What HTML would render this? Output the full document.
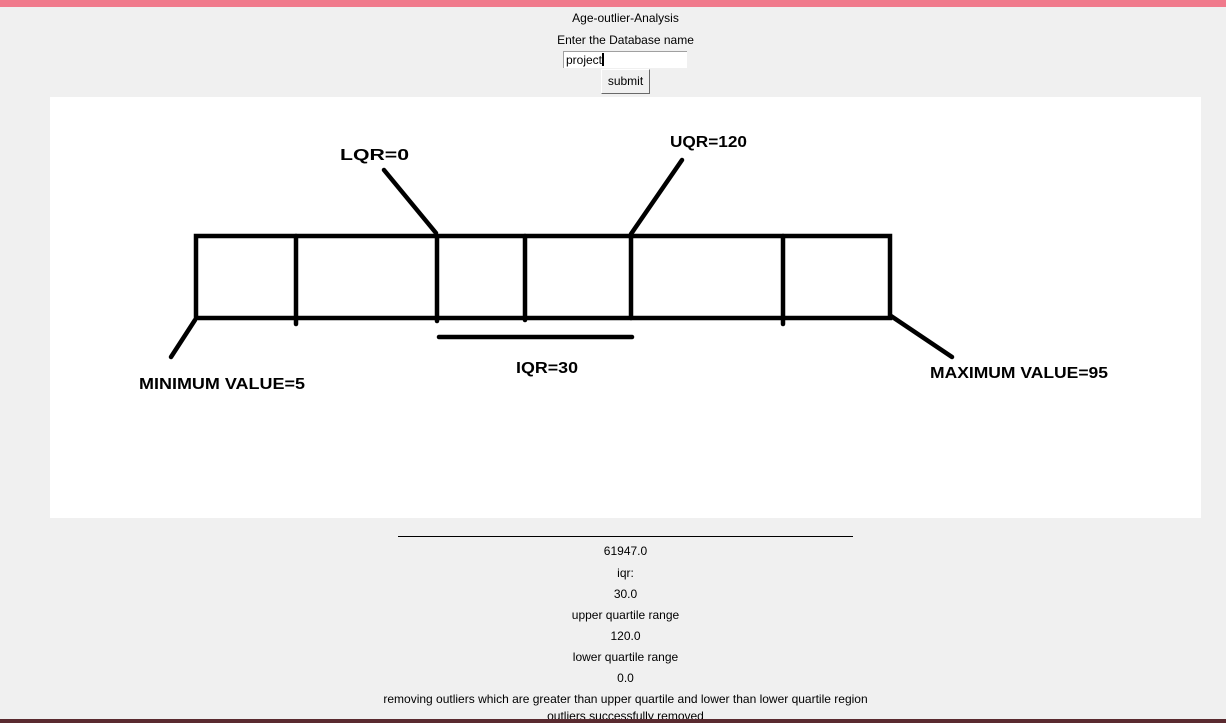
<!DOCTYPE html>
<html><head><meta charset="utf-8"><style>
html,body{margin:0;padding:0}
body{width:1226px;height:723px;background:#f0f0f0;position:relative;overflow:hidden;font-family:"Liberation Sans",sans-serif;font-size:12px;color:#000}
.t{position:absolute;left:0;width:1251px;text-align:center;line-height:14px}
</style></head><body>
<div style="position:absolute;left:0;top:0;width:1226px;height:7px;background:#f07a8c"></div>
<div class="t" style="top:11px">Age-outlier-Analysis</div>
<div class="t" style="top:33px">Enter the Database name</div>
<div style="position:absolute;left:563px;top:51px;width:124px;height:17px;background:#fff;border-top:1px solid #a0a0a0;border-left:1px solid #a0a0a0;box-sizing:border-box;padding-left:2px;line-height:16px">project<span style="display:inline-block;width:2px;height:13px;background:#000;vertical-align:-2px"></span></div>
<div style="position:absolute;left:601px;top:69px;width:49px;height:25px;background:#f0f0f0;border:1px solid;border-color:#fff #696969 #696969 #fff;box-sizing:border-box;text-align:center;line-height:23px">submit</div>
<div style="position:absolute;left:50px;top:97px;width:1151px;height:421px;background:#fff"></div>
<svg style="position:absolute;left:0;top:0" width="1226" height="723">
<g stroke="#000" stroke-width="4.5" fill="none" stroke-linecap="round">
<rect x="196" y="236" width="694" height="82"/>
<line x1="296" y1="236" x2="296" y2="324"/>
<line x1="437" y1="236" x2="437" y2="321"/>
<line x1="525" y1="236" x2="525" y2="320"/>
<line x1="631" y1="236" x2="631" y2="318"/>
<line x1="783" y1="236" x2="783" y2="324"/>
<line x1="439" y1="337" x2="632" y2="337"/>
<line x1="384" y1="170" x2="436" y2="233"/>
<line x1="682" y1="160" x2="631" y2="234"/>
<line x1="195" y1="320" x2="171" y2="357"/>
<line x1="891" y1="316" x2="952" y2="357"/>
</g>
<g font-family="Liberation Sans,sans-serif" font-weight="bold" font-size="16" fill="#000">
<text x="340" y="160" textLength="69" lengthAdjust="spacingAndGlyphs">LQR=0</text>
<text x="670" y="147" textLength="77" lengthAdjust="spacingAndGlyphs">UQR=120</text>
<text x="139" y="389" textLength="166" lengthAdjust="spacingAndGlyphs">MINIMUM VALUE=5</text>
<text x="516" y="373" textLength="62" lengthAdjust="spacingAndGlyphs">IQR=30</text>
<text x="930" y="378" textLength="178" lengthAdjust="spacingAndGlyphs">MAXIMUM VALUE=95</text>
</g>
<line x1="398" y1="536.5" x2="853" y2="536.5" stroke="#000" stroke-width="1"/>
</svg>
<div class="t" style="top:544px">61947.0</div>
<div class="t" style="top:566px">iqr:</div>
<div class="t" style="top:587px">30.0</div>
<div class="t" style="top:608px">upper quartile range</div>
<div class="t" style="top:629px">120.0</div>
<div class="t" style="top:650px">lower quartile range</div>
<div class="t" style="top:671px">0.0</div>
<div class="t" style="top:692px">removing outliers which are greater than upper quartile and lower than lower quartile region</div>
<div class="t" style="top:709px">outliers successfully removed</div>
<div style="position:absolute;left:0;top:719px;width:1226px;height:4px;background:#5a2a30"></div>
</body></html>
